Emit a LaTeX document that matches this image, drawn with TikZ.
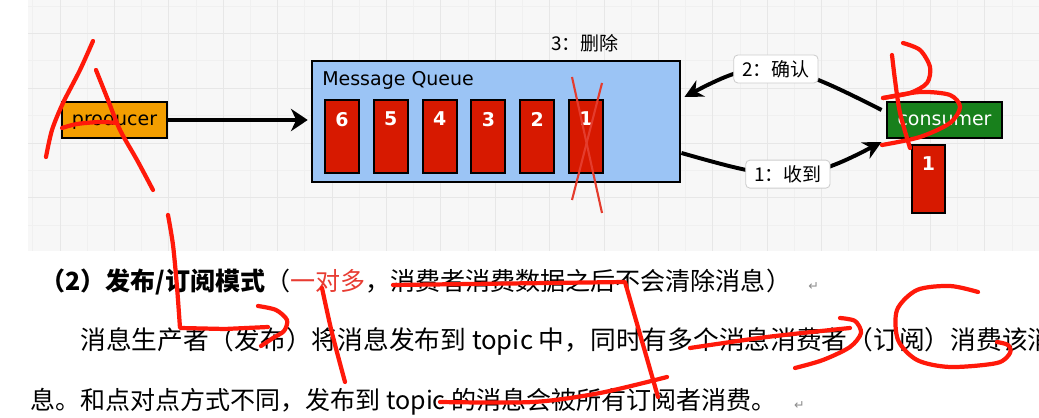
\documentclass[tikz,border=0pt]{standalone}
\usepackage{fontspec}
\setmainfont{DejaVu Sans}
\newfontfamily\cjk{Noto Sans CJK SC}
\usepackage{xcolor}
\usetikzlibrary{arrows.meta,positioning}

\definecolor{gridbg}{RGB}{247,247,247}
\definecolor{gridminor}{RGB}{240,240,240}
\definecolor{gridmajor}{RGB}{231,231,231}
\definecolor{queueblue}{RGB}{155,196,245}
\definecolor{msgred}{RGB}{215,25,0}
\definecolor{prodorange}{RGB}{243,158,0}
\definecolor{consgreen}{RGB}{24,128,28}
\definecolor{penred}{RGB}{255,25,10}
\definecolor{crossred}{RGB}{228,60,45}
\definecolor{tagline}{RGB}{205,205,205}
\definecolor{markgray}{RGB}{140,140,140}
\definecolor{textred}{RGB}{232,60,50}

\tikzset{
  diag/.style={font=\fontsize{13.5}{16}\selectfont},
  agent/.style={draw=black,line width=2pt,minimum width=2.625cm,minimum height=0.9cm,inner sep=0pt,diag},
  msgbox/.style={draw=black,line width=1.4pt,fill=msgred,minimum width=0.85cm,minimum height=1.825cm,inner sep=0pt},
  msgnum/.style={anchor=north,text=white,font=\bfseries\fontsize{13.5}{16}\selectfont,inner sep=0pt,yshift=-9pt},
  flow/.style={line width=2.8pt,-{Stealth[length=13pt,width=13pt]}},
  bigflow/.style={line width=3.4pt,-{Stealth[length=12pt,width=16pt]}},
  tag/.style={draw=tagline,fill=white,rounded corners=3pt,line width=0.6pt,minimum height=0.7cm,inner xsep=6pt,font=\cjk\fontsize{13.5}{16}\selectfont},
  para/.style={anchor=west,inner sep=0pt,font=\cjk\fontsize{17.8}{20}\selectfont},
  retmark/.style={anchor=base west,inner sep=0pt,text=markgray,font=\fontsize{9}{10}\selectfont},
  redpen/.style={draw=penred,line width=3pt,line cap=round,line join=round},
}

\begin{document}
\begin{tikzpicture}[x=0.025cm,y=-0.025cm]
    \useasboundingbox (0,0) rectangle (1039,418);
    \fill[white] (0,0) rectangle (1039,418);

    % Grid
    \fill[gridbg] (28,0) rectangle (1039,251);
    \foreach \gx in {0,...,37}
        \draw[gridminor,line width=0.7pt] ({32.8+27.2*\gx},0) -- ({32.8+27.2*\gx},251);
    \foreach \gy in {0,...,8}
        \draw[gridminor,line width=0.7pt] (28,{6+27.4*\gy}) -- (1039,{6+27.4*\gy});
    \foreach \gx in {0,...,18}
        \draw[gridmajor,line width=0.7pt] ({60+54.4*\gx},0) -- ({60+54.4*\gx},251);
    \foreach \gy in {0,...,3}
        \draw[gridmajor,line width=0.7pt] (28,{33.4+54.8*\gy}) -- (1039,{33.4+54.8*\gy});

    % Producer, queue, consumer
    \node[agent,fill=prodorange] (prod) at (114.5,120) {producer};
    \node[draw=black,line width=2pt,fill=queueblue,minimum width=9.2cm,minimum height=3.025cm] (mq) at (496,121.5) {};
    \node[diag,anchor=west,inner sep=0pt] (mqname) at (322,80) {Message Queue};
    \foreach \n [count=\i from 0] in {6,5,4,3,2,1}
        \node[msgbox,label={[msgnum]north:\n}] (m\n) at ({342+48.8*\i},136.5) {};
    \node[agent,fill=consgreen,text=white,minimum width=2.875cm] (cons) at (944.5,120) {consumer};
    \node[msgbox,minimum width=0.825cm,minimum height=1.7cm,label={[msgnum]north:1}] (got) at (928.5,179) {};

    % Crossed out message
    \draw[crossred,line width=1.5pt] (572,77) -- (602,213);
    \draw[crossred,line width=1.5pt] (602,83) -- (572,200);
    \node[inner sep=0pt,font=\cjk\fontsize{13.5}{16}\selectfont] (del) at (585,43) {3：删除};

    % Arrows
    \draw[bigflow,shorten >=2pt] (prod.east) -- (prod.east -| mq.west);
    \draw[flow] ([shift={(-4,-10)}]cons.west) .. controls (783,60) and (764,55) .. ([shift={(3,-24.5)}]mq.east)
        node[tag,pos=0.5] (ack) {2：确认};
    \draw[flow] ([shift={(0,31.5)}]mq.east) .. controls (780,181) and (800,185) .. ([shift={(-4,22)}]cons.west)
        node[tag,pos=0.5] (recv) {1：收到};

    % Text
    \node[para] (head) at (40,282) {{\bfseries （2）发布/订阅模式}（{\color{textred}一对多}，消费者消费数据之后不会清除消息）};
    \node[retmark] (ret1) at ([xshift=12pt]head.base east) {↵};
    \node[para,font=\cjk\fontsize{18.3}{20}\selectfont] (line2) at (80,341) {消息生产者（发布）将消息发布到 topic 中，同时有多个消息消费者（订阅）消费该消};
    \node[para] (line3) at (30,402) {息。和点对点方式不同，发布到 topic 的消息会被所有订阅者消费。};
    \node[retmark] (ret3) at ([xshift=12pt]line3.base east) {↵};

    % Pen strokes
    \draw[redpen] plot[smooth] coordinates {(93,41) (80,70) (63,103) (52,130) (46,157)};
    \draw[redpen] plot[smooth] coordinates {(96,70) (108,100) (120,130) (137,160) (153,190)};
    \draw[redpen] plot[smooth] coordinates {(62,128) (77,124) (100,122) (117,123)};
    \draw[redpen] plot[smooth] coordinates {(168,215) (173,245) (177,287) (180,328)} -- (225,329) -- (268,327);
    \draw[redpen] plot[smooth] coordinates {(258,306) (276,310) (287,320) (284,331) (273,338) (261,346)};
    \draw[redpen] plot[smooth] coordinates {(322,288) (332,333) (345,382)};
    \draw[redpen] (393,285) -- (625,282) -- (658,397);
    \draw[redpen] plot[smooth] coordinates {(440,402) (533,402) (600,393) (667,377)};
    \draw[redpen] plot[smooth] coordinates {(690,348) (767,337) (850,328)};
    \draw[redpen] plot[smooth] coordinates {(840,318) (855,321) (861,333) (850,347) (823,360) (795,368)};
    \draw[redpen] plot[smooth] coordinates {(978,292) (950,286) (917,290) (897,310) (898,340) (917,360) (950,367) (997,363) (1010,353) (1008,345) (997,342)};
    \draw[redpen] plot[smooth] coordinates {(892,55) (895,80) (900,113) (910,148)};
    \draw[redpen] plot[smooth] coordinates {(903,43) (920,50) (930,67) (927,83) (910,93) (883,98)};
    \draw[redpen] plot[smooth] coordinates {(883,98) (920,92) (950,95) (960,107) (950,123) (920,137) (882,145)};
\end{tikzpicture}
\end{document}
